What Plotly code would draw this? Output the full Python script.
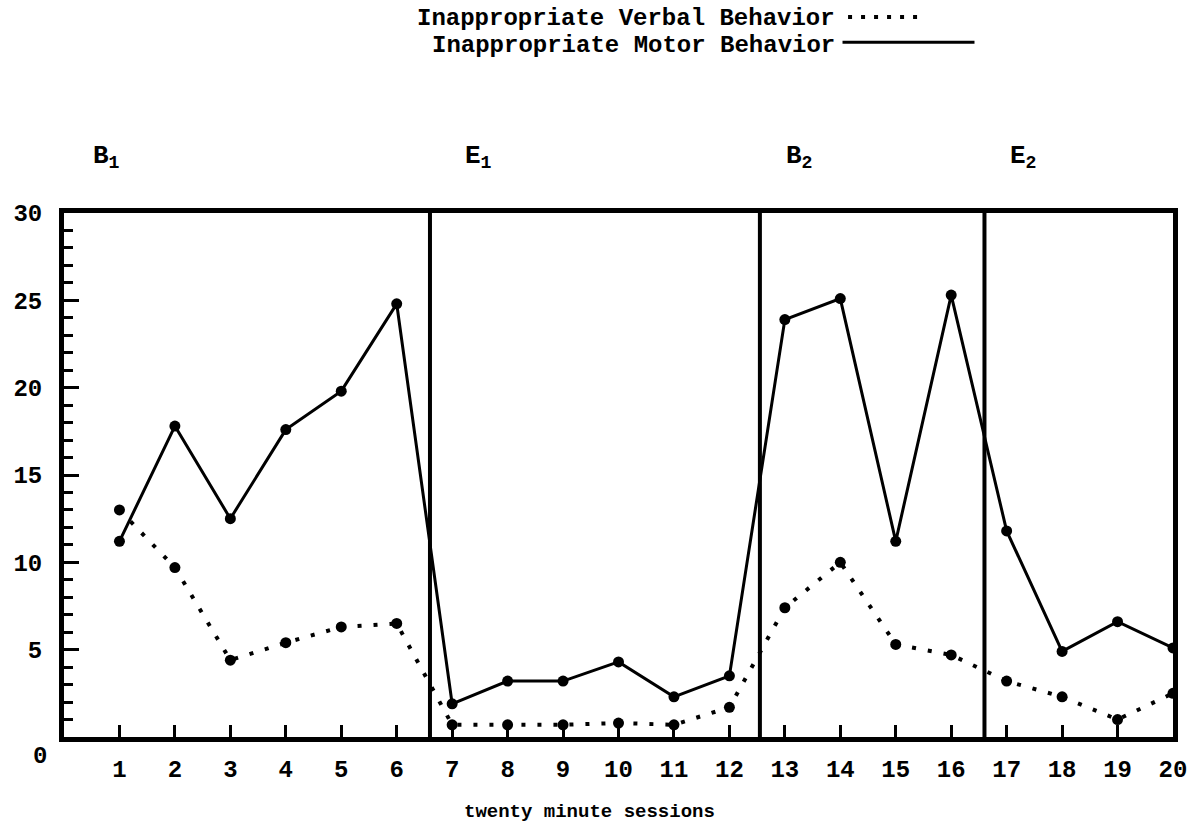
import plotly.graph_objects as go

sessions = list(range(1, 21))
motor = [11.2, 17.8, 12.5, 17.6, 19.8, 24.8, 1.9, 3.2, 3.2, 4.3, 2.3, 3.5,
         23.9, 25.1, 11.2, 25.3, 11.8, 4.9, 6.6, 5.1]
verbal = [13.0, 9.7, 4.4, 5.4, 6.3, 6.5, 0.7, 0.7, 0.7, 0.8, 0.7, 1.7,
          7.4, 10.0, 5.3, 4.7, 3.2, 2.3, 1.0, 2.5]
phase_lines = [6.6, 12.55, 16.6]
phase_labels = ["B<sub>1</sub>", "E<sub>1</sub>", "B<sub>2</sub>", "E<sub>2</sub>"]
phase_label_x = [0.49, 7.19, 12.98, 17.03]
y_ticks = [5, 10, 15, 20, 25, 30]

FONT = "Liberation Mono"

fig = go.Figure()
fig.add_trace(go.Scatter(
    x=sessions, y=verbal, mode="lines+markers", name="Inappropriate Verbal Behavior",
    line=dict(color="black", width=4, dash="4px,12px"),
    marker=dict(color="black", size=11), showlegend=False))
fig.add_trace(go.Scatter(
    x=sessions, y=motor, mode="lines+markers", name="Inappropriate Motor Behavior",
    line=dict(color="black", width=3),
    marker=dict(color="black", size=11), showlegend=False))

shapes = []
for px in phase_lines:
    shapes.append(dict(type="line", xref="x", yref="paper", x0=px, x1=px, y0=0, y1=1,
                       line=dict(color="black", width=4)))
# legend samples
shapes.append(dict(type="line", xref="paper", yref="paper", x0=0.707, x1=0.776,
                   y0=1.374, y1=1.374, line=dict(color="black", width=4, dash="4px,9px")))
shapes.append(dict(type="line", xref="paper", yref="paper", x0=0.702, x1=0.821,
                   y0=1.326, y1=1.326, line=dict(color="black", width=3)))

bold = dict(family=FONT, color="black", weight="bold")
annotations = [
    dict(text="Inappropriate Verbal Behavior", xref="paper", yref="paper", x=0.697, y=1.372,
         xanchor="right", yanchor="middle", showarrow=False, font=dict(size=24, **bold)),
    dict(text="Inappropriate Motor Behavior", xref="paper", yref="paper", x=0.697, y=1.3206,
         xanchor="right", yanchor="middle", showarrow=False, font=dict(size=24, **bold)),
    dict(text="twenty minute sessions", xref="paper", yref="paper", x=0.474, y=-0.143,
         xanchor="center", yanchor="middle", showarrow=False, font=dict(size=19, **bold)),
    dict(text="0", xref="paper", yref="paper", x=-0.0216, y=-0.038,
         xanchor="center", yanchor="middle", showarrow=False, font=dict(size=24, **bold)),
]
for lbl, lx in zip(phase_labels, phase_label_x):
    annotations.append(dict(text=lbl, xref="x", yref="paper", x=lx, y=1.107,
                            xanchor="left", yanchor="middle", showarrow=False,
                            font=dict(size=26, **bold)))

fig.update_layout(
    width=1203, height=826,
    margin=dict(l=64, r=30, t=213, b=89),
    paper_bgcolor="white", plot_bgcolor="white",
    shapes=shapes, annotations=annotations,
    font=dict(family=FONT, color="black"),
)
fig.update_xaxes(
    range=[0, 20], tickmode="array", tickvals=sessions, ticktext=[str(s) for s in sessions],
    ticks="inside", ticklen=12, tickwidth=3, tickcolor="black",
    showline=True, linecolor="black", linewidth=5, mirror=True,
    showgrid=False, zeroline=False, ticklabelstandoff=6,
    tickfont=dict(size=24, **bold),
)
fig.update_yaxes(
    range=[0, 30], tickmode="array", tickvals=y_ticks, ticktext=[str(v) for v in y_ticks],
    ticks="inside", ticklen=15, tickwidth=3, tickcolor="black",
    minor=dict(dtick=1, ticks="inside", ticklen=9, tickwidth=3, tickcolor="black"),
    showline=True, linecolor="black", linewidth=5, mirror=True,
    showgrid=False, zeroline=False, ticklabelstandoff=12,
    tickfont=dict(size=24, **bold),
)

# remove the browser's default 8px body margin so the figure fills the window
fig.write_html("out.html", config={"displayModeBar": False},
               post_script="document.body.style.margin='0';")
